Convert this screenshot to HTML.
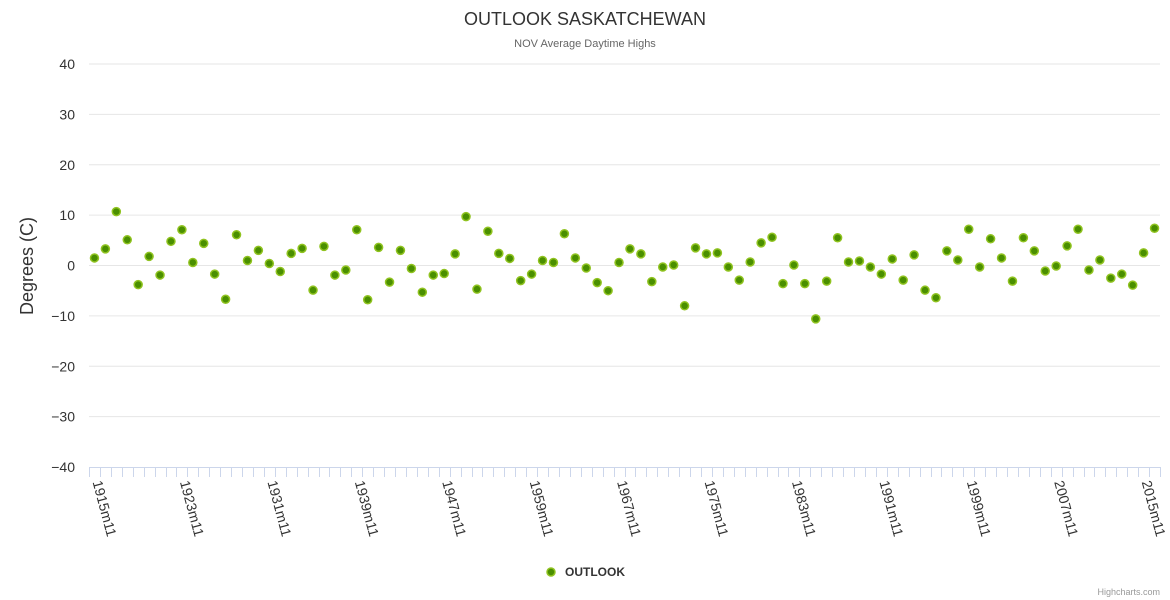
<!DOCTYPE html>
<html><head><meta charset="utf-8">
<style>
body{margin:0;background:#fff;font-family:"Liberation Sans",Arial,sans-serif;}
svg{display:block}
</style></head>
<body>
<svg id="chart" width="1170" height="600" xmlns="http://www.w3.org/2000/svg" font-family="Liberation Sans, Arial, sans-serif">
  <text x="585" y="25" text-anchor="middle" font-size="18" fill="#333">OUTLOOK SASKATCHEWAN</text>
  <text x="585" y="47" text-anchor="middle" font-size="11" fill="#666">NOV Average Daytime Highs</text>
  <text transform="translate(33,266) rotate(-90)" text-anchor="middle" font-size="18" fill="#333">Degrees (C)</text>
  <g id="grid"></g><g id="xaxis"></g><g id="points"></g>
  <g>
    <circle cx="551" cy="572" r="4" fill="#4a8f00" stroke="#90c320" stroke-width="1.5"/>
    <text x="565" y="576" font-size="12" font-weight="bold" fill="#333">OUTLOOK</text>
  </g>
  <text x="1160" y="595" text-anchor="end" font-size="9" fill="#999">Highcharts.com</text>
</svg>
<script>
const values = [1.5,3.3,10.7,5.1,-3.8,1.8,-1.9,4.8,7.1,0.6,4.4,-1.7,-6.7,6.1,1.0,3.0,0.4,-1.2,2.4,3.4,-4.9,3.8,-1.9,-0.9,7.1,-6.8,3.6,-3.3,3.0,-0.6,-5.3,-1.9,-1.6,2.3,9.7,-4.7,6.8,2.4,1.4,-3.0,-1.7,1.0,0.6,6.3,1.5,-0.5,-3.4,-5.0,0.6,3.3,2.3,-3.2,-0.3,0.1,-8.0,3.5,2.3,2.5,-0.3,-2.9,0.7,4.5,5.6,-3.6,0.1,-3.6,-10.6,-3.1,5.5,0.7,0.9,-0.3,-1.7,1.3,-2.9,2.1,-4.9,-6.4,2.9,1.1,7.2,-0.3,5.3,1.5,-3.1,5.5,2.9,-1.1,-0.1,3.9,7.2,-0.9,1.1,-2.5,-1.7,-3.9,2.5,7.4];
const missingYears = [1951,1952,1953,1954];
const yTicks = [40,30,20,10,0,-10,-20,-30,-40];
const categories = [];
for (let yr = 1915; categories.length < values.length; yr++) { if (!missingYears.includes(yr)) categories.push(yr + 'm11'); }

const NS='http://www.w3.org/2000/svg';
const L=89, R=1160, T=64, B=467, yMin=-40, yMax=40;
const cw=(R-L)/categories.length;
const xPos=i=>L+(i+0.5)*cw;
const yPos=v=>B-(v-yMin)/(yMax-yMin)*(B-T);
function mk(tag,attrs,parent){const e=document.createElementNS(NS,tag);for(const k in attrs)e.setAttribute(k,attrs[k]);parent.appendChild(e);return e;}
const grid=document.getElementById('grid');
yTicks.forEach(t=>{
  const y=yPos(t);
  if(t!==yMin){const ln=mk('line',{x1:L,x2:R,y1:y,y2:y,stroke:'#e6e6e6','stroke-width':1},grid);
  
  }
  const tx=mk('text',{x:75,y:y+5,'text-anchor':'end','font-size':14,fill:'#333'},grid);
  tx.textContent=String(t).replace('-','\u2212');
  
  
});
const xa=document.getElementById('xaxis');
const axl=mk('line',{x1:L,x2:R,y1:B+0.5,y2:B+0.5,stroke:'#ccd6eb','stroke-width':1},xa);


for(let i=0;i<=categories.length;i++){
  const x=Math.round(L+i*cw)+0.5;
  const tk=mk('line',{x1:x,x2:x,y1:B,y2:B+10,stroke:'#ccd6eb','stroke-width':1},xa);
  
  
}
categories.forEach((c,i)=>{
  if(i%8!==0)return;
  const x=xPos(i)-2;
  const tx=mk('text',{transform:`translate(${x},${B+15}) rotate(75)`,'font-size':14,fill:'#333'},xa);
  tx.textContent=c;
  
  
});
const pg=document.getElementById('points');
values.forEach((v,i)=>{
  const c=mk('circle',{cx:xPos(i),cy:yPos(v),r:4,fill:'#4a8f00',stroke:'#90c320','stroke-width':1.5},pg);
  
  
});
</script>
</body></html>
